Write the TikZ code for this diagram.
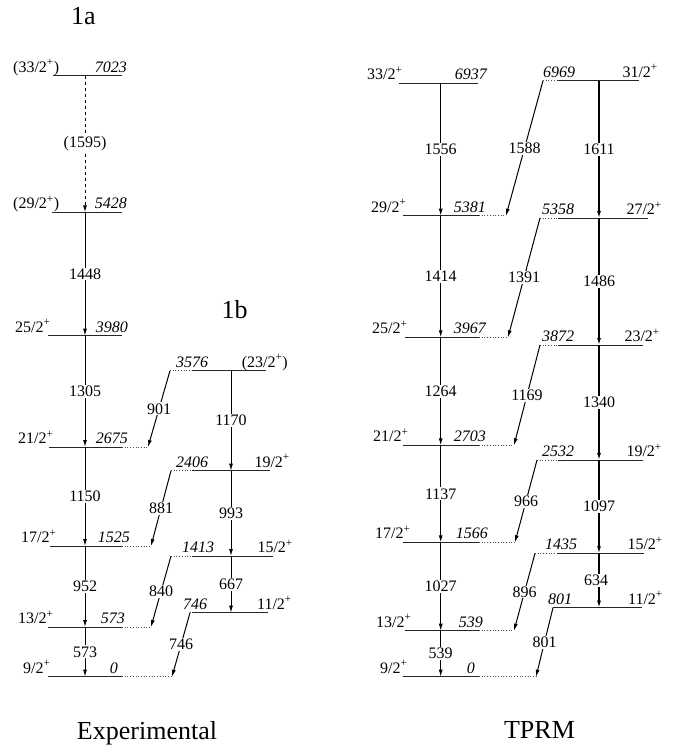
\documentclass[tikz,border=0pt]{standalone}
\usepackage{fontspec}
\setmainfont{Liberation Serif}
\usetikzlibrary{arrows.meta}
\begin{document}
\begin{tikzpicture}[x=1pt,y=-1pt,
  lvl/.style={line width=0.9pt, black!85},
  ext/.style={dotted, line width=0.7pt, black!70},
  tr/.style={line width=1pt, -{Latex[length=7pt,width=4pt]}},
  gl/.style={fill=white, inner sep=1pt, font=\fontsize{16}{18}\selectfont},
  lt/.style={anchor=base west, inner sep=0pt, font=\fontsize{16}{18}\selectfont},
  rt/.style={anchor=base east, inner sep=0pt, font=\fontsize{16}{18}\selectfont},
  en/.style={font=\fontsize{16}{18}\selectfont\itshape},
  big/.style={anchor=base, inner sep=0pt, font=\fontsize{26}{30}\selectfont}
]
\useasboundingbox (0,0) rectangle (689,746);

% ---------------- titles
\node[big] (t1a) at (83.5,25) {1a};
\node[big] (t1b) at (234.5,318) {1b};
\node[big] (texp) at (147,739) {Experimental};
\node[big] (ttprm) at (539.5,738) {TPRM};

% ---------------- Experimental, band 1a
\draw[lvl] (53,75.7) -- (122,75.7);
\node[lt] (sa1) at (13,72.2) {(33/2\textsuperscript{+})};
\node[rt,en] (ea1) at (127,72.2) {7023};
\coordinate (a1) at (85,75.7);

\draw[lvl] (52,212.3) -- (122,212.3);
\node[lt] (sa2) at (13,208.8) {(29/2\textsuperscript{+})};
\node[rt,en] (ea2) at (127,208.8) {5428};
\coordinate (a2) at (85,212.3);

\draw[lvl] (48,335.7) -- (122,335.7);
\node[lt] (sa3) at (15,332.2) {25/2\textsuperscript{+}};
\node[rt,en] (ea3) at (128,332.2) {3980};
\coordinate (a3) at (85,335.7);

\draw[lvl] (49,447) -- (122,447);
\draw[ext] (122,447) -- (148,447);
\node[lt] (sa4) at (18,443.5) {21/2\textsuperscript{+}};
\node[rt,en] (ea4) at (128,443.5) {2675};
\coordinate (a4) at (85,447);
\coordinate (a4d) at (148,447);

\draw[lvl] (50,546) -- (122,546);
\draw[ext] (122,546) -- (151,546);
\node[lt] (sa5) at (21,542.5) {17/2\textsuperscript{+}};
\node[rt,en] (ea5) at (130,542.5) {1525};
\coordinate (a5) at (85,546);
\coordinate (a5d) at (151,546);

\draw[lvl] (48,627) -- (122,627);
\draw[ext] (122,627) -- (151,627);
\node[lt] (sa6) at (18,623.5) {13/2\textsuperscript{+}};
\node[rt,en] (ea6) at (125,623.5) {573};
\coordinate (a6) at (85,627);
\coordinate (a6d) at (151,627);

\draw[lvl] (48,676.7) -- (122,676.7);
\draw[ext] (122,676.7) -- (172,676.7);
\node[lt] (sa7) at (23,673.2) {9/2\textsuperscript{+}};
\node[rt,en] (ea7) at (118,673.2) {0};
\coordinate (a7) at (85,676.7);
\coordinate (a7d) at (172,676.7);

\draw[tr,dashed] (a1) -- node[gl] (g1595) {(1595)} (a2);
\draw[tr] (a2) -- node[gl] (g1448) {1448} (a3);
\draw[tr] (a3) -- node[gl] (g1305) {1305} (a4);
\draw[tr] (a4) -- node[gl] (g1150) {1150} (a5);
\draw[tr] (a5) -- node[gl] (g952) {952} (a6);
\draw[tr] (a6) -- node[gl] (g573) {573} (a7);

% ---------------- Experimental, band 1b
\draw[ext] (170,370.7) -- (192,370.7);
\draw[lvl] (192,370.7) -- (266,370.7);
\node[lt,en] (eb1) at (176,367.2) {3576};
\node[rt] (sb1) at (288,367.2) {(23/2\textsuperscript{+})};
\coordinate (b1) at (231,370.7);
\coordinate (b1d) at (170,370.7);

\draw[ext] (171,470.7) -- (192,470.7);
\draw[lvl] (192,470.7) -- (270,470.7);
\node[lt,en] (eb2) at (176,467.2) {2406};
\node[rt] (sb2) at (290,467.2) {19/2\textsuperscript{+}};
\coordinate (b2) at (231,470.7);
\coordinate (b2d) at (171,470.7);

\draw[ext] (171,556) -- (192,556);
\draw[lvl] (192,556) -- (273,556);
\node[lt,en] (eb3) at (182,552.5) {1413};
\node[rt] (sb3) at (293,552.5) {15/2\textsuperscript{+}};
\coordinate (b3) at (231,556);
\coordinate (b3d) at (171,556);

\draw[ext] (190,612.7) -- (192,612.7);
\draw[lvl] (192,612.7) -- (268,612.7);
\node[lt,en] (eb4) at (183,609.2) {746};
\node[rt] (sb4) at (292,609.2) {11/2\textsuperscript{+}};
\coordinate (b4) at (231,612.7);
\coordinate (b4d) at (190,612.7);

\draw[tr] (b1) -- node[gl] (g1170) {1170} (b2);
\draw[tr] (b2) -- node[gl] (g993) {993} (b3);
\draw[tr] (b3) -- node[gl] (g667) {667} (b4);

\draw[tr] (b1d) -- node[gl] (g901) {901} (a4d);
\draw[tr] (b2d) -- node[gl] (g881) {881} (a5d);
\draw[tr] (b3d) -- node[gl] (g840) {840} (a6d);
\draw[tr] (b4d) -- node[gl] (g746) {746} (a7d);

% ---------------- TPRM, left band
\draw[lvl] (399,83.3) -- (478,83.3);
\node[lt] (sc1) at (367,79.8) {33/2\textsuperscript{+}};
\node[rt,en] (ec1) at (487,79.8) {6937};
\coordinate (c1) at (440.7,83.3);

\draw[lvl] (403,215.7) -- (479,215.7);
\draw[ext] (479,215.7) -- (506,215.7);
\node[lt] (sc2) at (371,212.2) {29/2\textsuperscript{+}};
\node[rt,en] (ec2) at (486,212.2) {5381};
\coordinate (c2) at (440.7,215.7);
\coordinate (c2d) at (506,215.7);

\draw[lvl] (405,337.3) -- (479,337.3);
\draw[ext] (479,337.3) -- (508,337.3);
\node[lt] (sc3) at (372,333.8) {25/2\textsuperscript{+}};
\node[rt,en] (ec3) at (486,333.8) {3967};
\coordinate (c3) at (440.7,337.3);
\coordinate (c3d) at (508,337.3);

\draw[lvl] (403,445.3) -- (479,445.3);
\draw[ext] (479,445.3) -- (514,445.3);
\node[lt] (sc4) at (373,441.8) {21/2\textsuperscript{+}};
\node[rt,en] (ec4) at (486,441.8) {2703};
\coordinate (c4) at (440.7,445.3);
\coordinate (c4d) at (514,445.3);

\draw[lvl] (403,542.3) -- (479,542.3);
\draw[ext] (479,542.3) -- (515,542.3);
\node[lt] (sc5) at (375,538.8) {17/2\textsuperscript{+}};
\node[rt,en] (ec5) at (488,538.8) {1566};
\coordinate (c5) at (440.7,542.3);
\coordinate (c5d) at (515,542.3);

\draw[lvl] (405,630.7) -- (479,630.7);
\draw[ext] (479,630.7) -- (514,630.7);
\node[lt] (sc6) at (376,627.2) {13/2\textsuperscript{+}};
\node[rt,en] (ec6) at (483,627.2) {539};
\coordinate (c6) at (440.7,630.7);
\coordinate (c6d) at (514,630.7);

\draw[lvl] (403,676.7) -- (479,676.7);
\draw[ext] (479,676.7) -- (536,676.7);
\node[lt] (sc7) at (380,673.2) {9/2\textsuperscript{+}};
\node[rt,en] (ec7) at (475,673.2) {0};
\coordinate (c7) at (440.7,676.7);
\coordinate (c7d) at (536,676.7);

\draw[tr] (c1) -- node[gl] (g1556) {1556} (c2);
\draw[tr] (c2) -- node[gl] (g1414) {1414} (c3);
\draw[tr] (c3) -- node[gl] (g1264) {1264} (c4);
\draw[tr] (c4) -- node[gl] (g1137) {1137} (c5);
\draw[tr] (c5) -- node[gl] (g1027) {1027} (c6);
\draw[tr] (c6) -- node[gl] (g539) {539} (c7);

% ---------------- TPRM, right band
\draw[ext] (543,80.7) -- (558,80.7);
\draw[lvl] (558,80.7) -- (639,80.7);
\node[lt,en] (ed1) at (543,77.2) {6969};
\node[rt] (sd1) at (658,77.2) {31/2\textsuperscript{+}};
\coordinate (d1) at (599,80.7);
\coordinate (d1d) at (543,80.7);

\draw[ext] (540,218) -- (558,218);
\draw[lvl] (558,218) -- (648,218);
\node[lt,en] (ed2) at (542,214.5) {5358};
\node[rt] (sd2) at (662,214.5) {27/2\textsuperscript{+}};
\coordinate (d2) at (599,218);
\coordinate (d2d) at (540,218);

\draw[ext] (540,345) -- (558,345);
\draw[lvl] (558,345) -- (643,345);
\node[lt,en] (ed3) at (542,341.5) {3872};
\node[rt] (sd3) at (660,341.5) {23/2\textsuperscript{+}};
\coordinate (d3) at (599,345);
\coordinate (d3d) at (540,345);

\draw[ext] (537,460) -- (558,460);
\draw[lvl] (558,460) -- (643,460);
\node[lt,en] (ed4) at (542,456.5) {2532};
\node[rt] (sd4) at (662,456.5) {19/2\textsuperscript{+}};
\coordinate (d4) at (599,460);
\coordinate (d4d) at (537,460);

\draw[ext] (535,553.3) -- (558,553.3);
\draw[lvl] (558,553.3) -- (644,553.3);
\node[lt,en] (ed5) at (545,549.8) {1435};
\node[rt] (sd5) at (663,549.8) {15/2\textsuperscript{+}};
\coordinate (d5) at (599,553.3);
\coordinate (d5d) at (535,553.3);

\draw[lvl] (553,607.7) -- (642,607.7);
\node[lt,en] (ed6) at (548,604.2) {801};
\node[rt] (sd6) at (663,604.2) {11/2\textsuperscript{+}};
\coordinate (d6) at (599,607.7);
\coordinate (d6d) at (553,607.7);

\draw[tr,line width=1.3pt] (d1) -- node[gl] (g1611) {1611} (d2);
\draw[tr,line width=1.3pt] (d2) -- node[gl] (g1486) {1486} (d3);
\draw[tr,line width=1.3pt] (d3) -- node[gl] (g1340) {1340} (d4);
\draw[tr,line width=1.3pt] (d4) -- node[gl] (g1097) {1097} (d5);
\draw[tr,line width=1.3pt] (d5) -- node[gl,xshift=-3pt] (g634) {634} (d6);

\draw[tr] (d1d) -- node[gl] (g1588) {1588} (c2d);
\draw[tr] (d2d) -- node[gl] (g1391) {1391} (c3d);
\draw[tr] (d3d) -- node[gl] (g1169) {1169} (c4d);
\draw[tr] (d4d) -- node[gl] (g966) {966} (c5d);
\draw[tr] (d5d) -- node[gl] (g896) {896} (c6d);
\draw[tr] (d6d) -- node[gl] (g801) {801} (c7d);
\end{tikzpicture}
\end{document}
